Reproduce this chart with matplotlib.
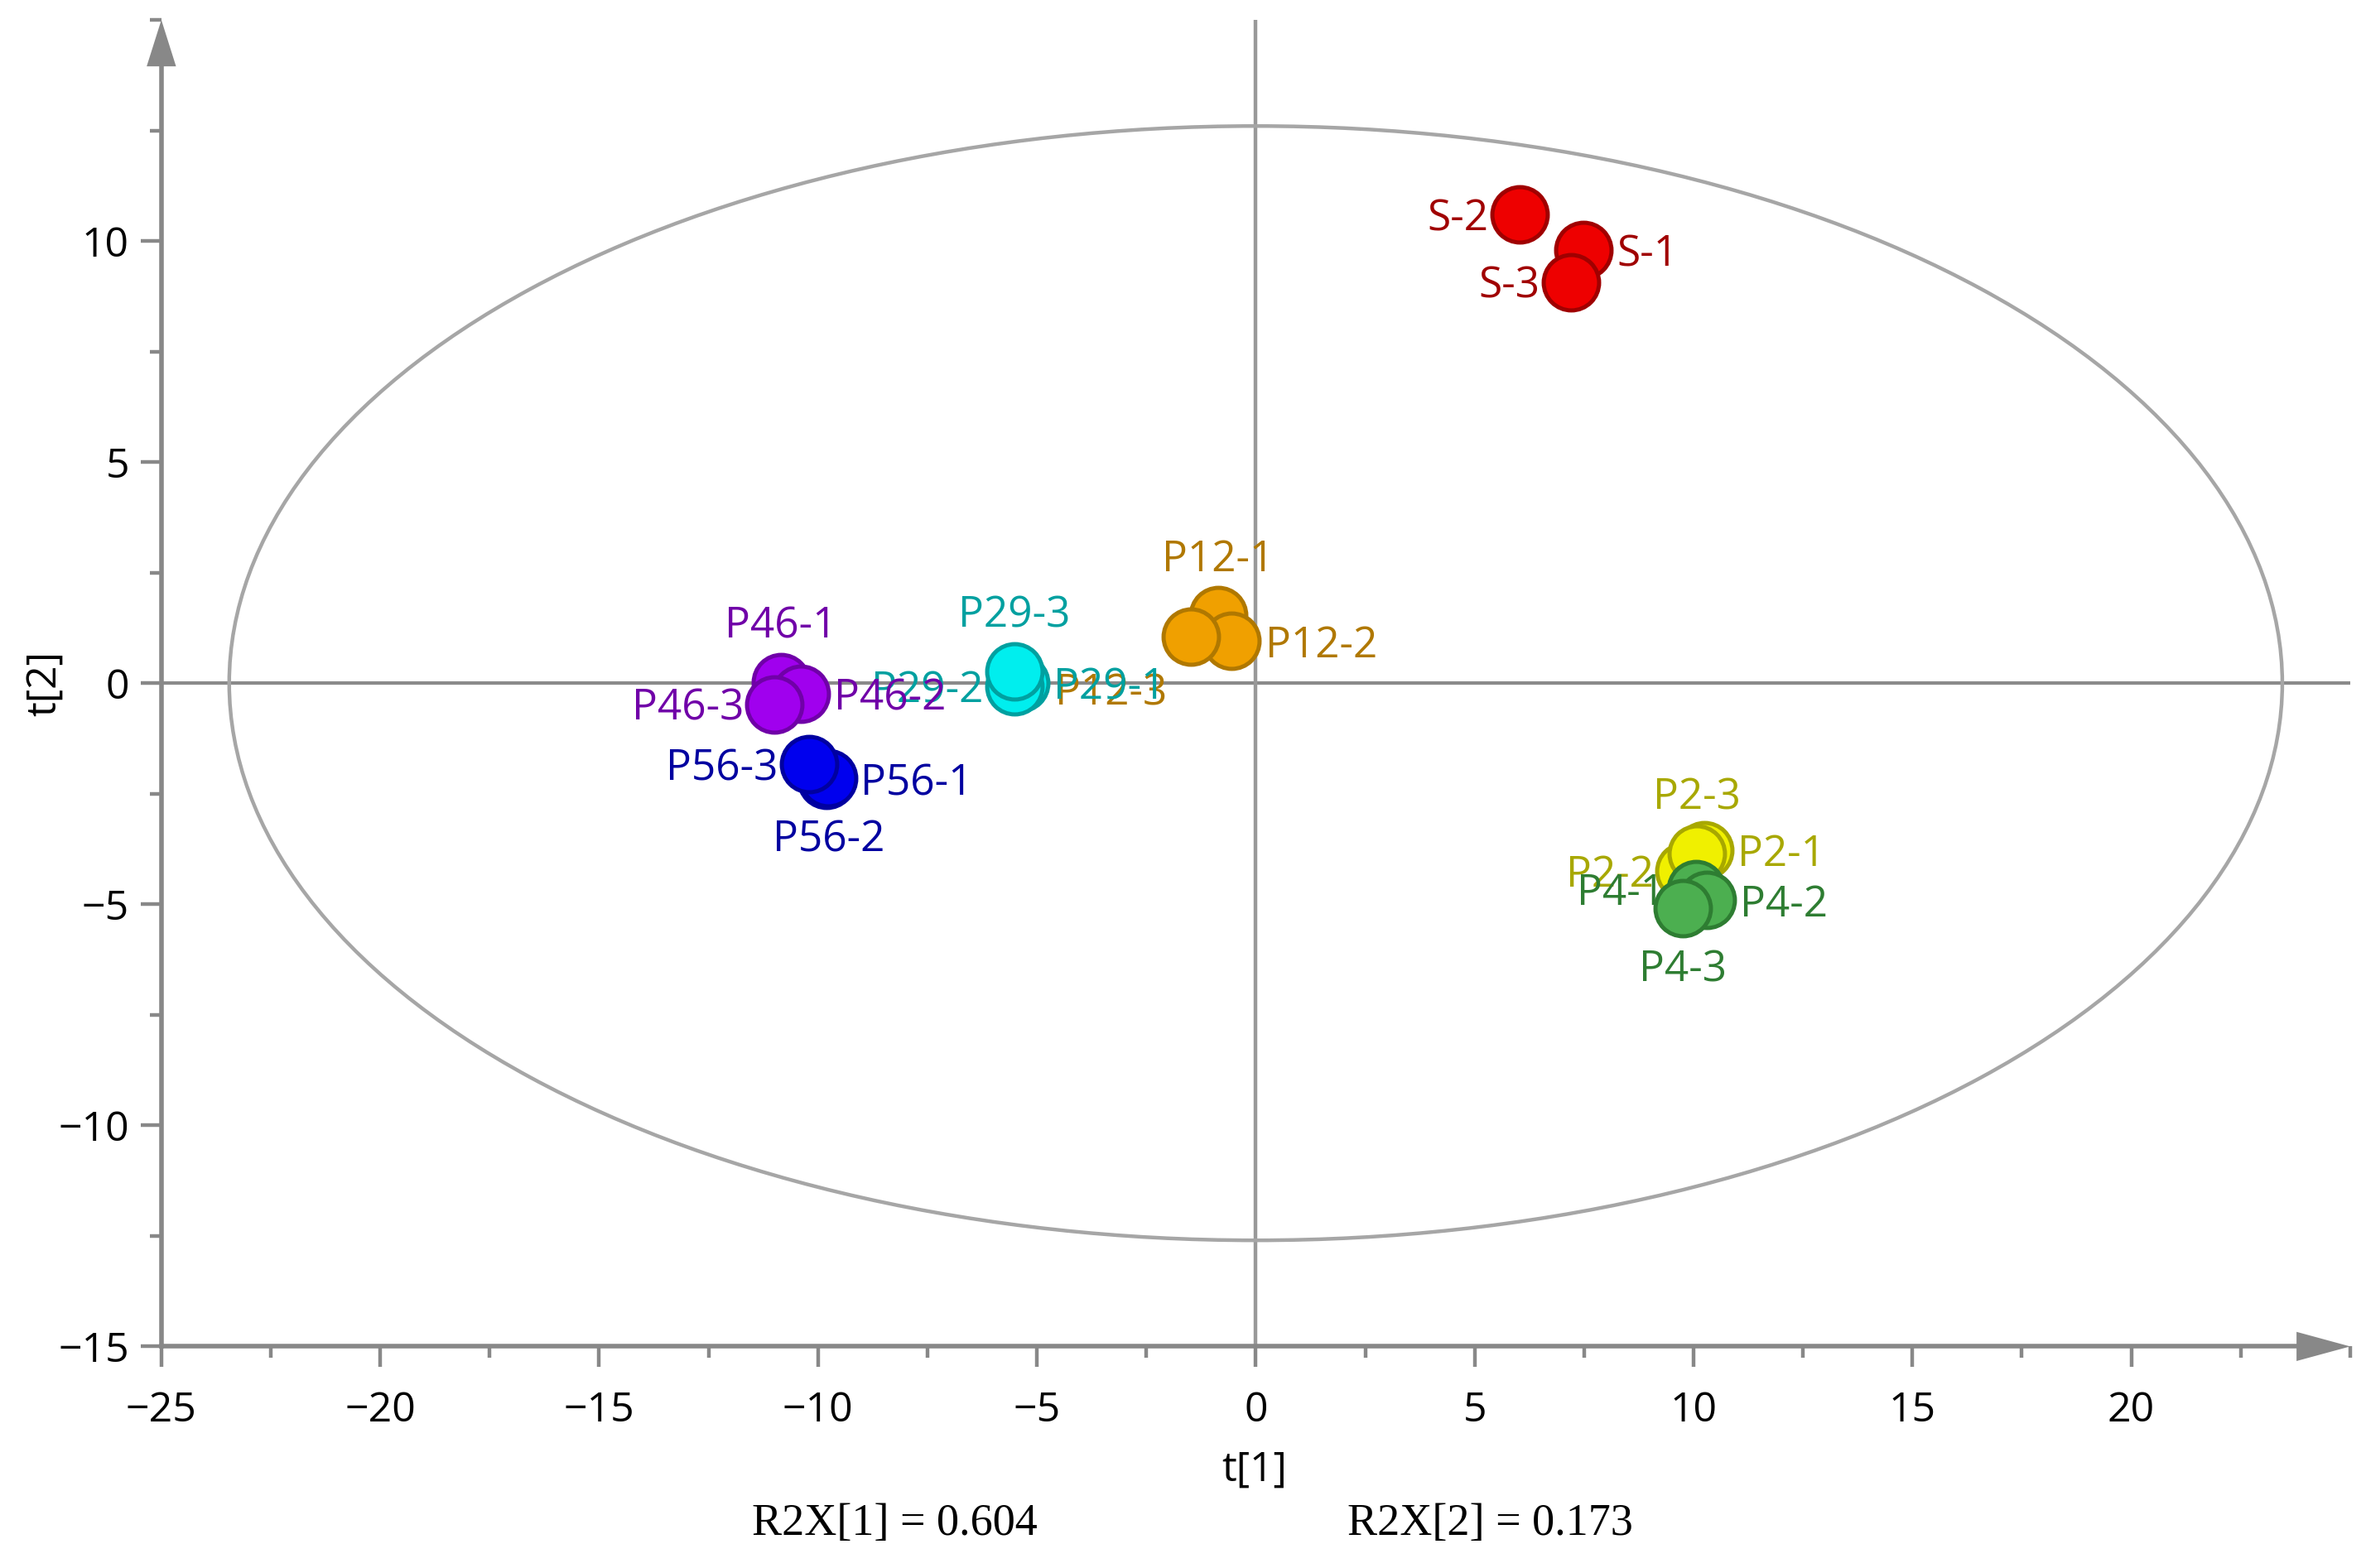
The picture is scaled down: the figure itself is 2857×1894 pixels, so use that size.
import matplotlib
matplotlib.use("Agg")
import matplotlib.pyplot as plt
import matplotlib.patches as mpatches
from matplotlib.ticker import MultipleLocator

plt.rcParams['font.family'] = ['Open Sans', 'DejaVu Sans']

# score values
samples = ['S-1', 'S-2', 'S-3',
           'P12-1', 'P12-2', 'P12-3',
           'P29-1', 'P29-2', 'P29-3',
           'P46-1', 'P46-2', 'P46-3',
           'P56-1', 'P56-2', 'P56-3',
           'P2-1', 'P2-2', 'P2-3',
           'P4-1', 'P4-2', 'P4-3']
t1 = [7.48, 6.03, 7.20,
      -0.86, -0.55, -1.48,
      -5.38, -5.51, -5.51,
      -10.85, -10.40, -10.99,
      -9.80, -9.76, -10.20,
      10.25, 9.80, 10.08,
      10.05, 10.30, 9.76]
t2 = [9.79, 10.60, 9.07,
      1.53, 0.95, 1.06,
      0.00, -0.07, 0.27,
      0.03, -0.24, -0.48,
      -2.18, -2.15, -1.84,
      -3.78, -4.25, -3.85,
      -4.65, -4.91, -5.08]
groups = ['S'] * 3 + ['P12'] * 3 + ['P29'] * 3 + ['P46'] * 3 + ['P56'] * 3 + ['P2'] * 3 + ['P4'] * 3

fill_colors = {'S': '#ee0000', 'P12': '#f0a000', 'P29': '#00eeee', 'P46': '#a000ee',
               'P56': '#0000ee', 'P2': '#f0f000', 'P4': '#4caf50'}
edge_colors = {'S': '#a00000', 'P12': '#b07800', 'P29': '#00a0a0', 'P46': '#7000a8',
               'P56': '#0000a0', 'P2': '#a8a800', 'P4': '#2e7d32'}

r2x = [0.604, 0.173]
ellipse_axes = [23.45, 12.6]   # Hotelling T2 ellipse semi axes

# label placement (offset in points, horizontal alignment)
R, L, U, D = (14.5, -2, 'left'), (-13.5, -2, 'right'), (0, 24, 'center'), (0, -27, 'center')
label_pos = [R, L, L,
             U, R, (-10.5, -25, 'right'),
             R, L, U,
             U, R, L,
             R, D, L,
             R, L, U,
             L, R, D]

fig = plt.figure(figsize=(14.285, 9.47), dpi=200)
ax = fig.add_axes([0.0682, 0.1413, 0.9251, 0.8460])
ax.set_xlim(-25, 25)
ax.set_ylim(-15, 15)

axis_col = '#888888'
for s in ['top', 'right']:
    ax.spines[s].set_visible(False)
for s in ['bottom', 'left']:
    ax.spines[s].set_color(axis_col)
    ax.spines[s].set_linewidth(2.0)
ax.spines['bottom'].set_bounds(-25, 24.0)
ax.spines['left'].set_bounds(-15, 14.0)

# arrow heads
ax.add_patch(mpatches.Polygon([[1.0, 0.0], [0.9755, 0.0110], [0.9755, -0.0110]], closed=True,
                              transform=ax.transAxes, color=axis_col, clip_on=False, lw=0))
ax.add_patch(mpatches.Polygon([[0.0, 1.0], [-0.0067, 0.965], [0.0067, 0.965]], closed=True,
                              transform=ax.transAxes, color=axis_col, clip_on=False, lw=0))

ax.set_xticks([-25, -20, -15, -10, -5, 0, 5, 10, 15, 20])
ax.set_yticks([-15, -10, -5, 0, 5, 10])
ax.xaxis.set_minor_locator(MultipleLocator(2.5))
ax.yaxis.set_minor_locator(MultipleLocator(2.5))
ax.tick_params(which='major', length=9, width=1.6, color=axis_col, labelsize=18)
ax.tick_params(which='minor', length=5, width=1.6, color=axis_col)
ax.tick_params(axis='x', which='major', pad=10)
ax.tick_params(axis='y', which='major', pad=5)

# zero lines and ellipse
ax.axhline(0, color='#8a8a8a', lw=1.5, zorder=1)
ax.axvline(0, color='#999999', lw=1.6, zorder=1)
ax.add_patch(mpatches.Ellipse((0, 0), 2 * ellipse_axes[0], 2 * ellipse_axes[1], fill=False,
                              ec='#a6a6a6', lw=1.6, zorder=1))

for i, name in enumerate(samples):
    g = groups[i]
    ax.scatter(t1[i], t2[i], s=580, color=fill_colors[g], edgecolor=edge_colors[g],
               linewidth=1.8, zorder=3)
for i, name in enumerate(samples):
    dx, dy, ha = label_pos[i]
    ax.annotate(name, (t1[i], t2[i]), xytext=(dx, dy), textcoords='offset points',
                ha=ha, va='center', fontsize=18.5, color=edge_colors[groups[i]], zorder=4)

fig.text(0.530, 0.0625, 't[1]', ha='center', va='center', fontsize=18)
fig.text(0.019, 0.5644, 't[2]', ha='center', va='center', rotation=90, fontsize=18)
fig.text(0.378, 0.0279, 'R2X[1] = %.3f' % r2x[0], ha='center', va='center', fontsize=19.5,
         family='Liberation Serif')
fig.text(0.630, 0.0279, 'R2X[2] = %.3f' % r2x[1], ha='center', va='center', fontsize=19.5,
         family='Liberation Serif')

fig.savefig('out.png', dpi=200)
